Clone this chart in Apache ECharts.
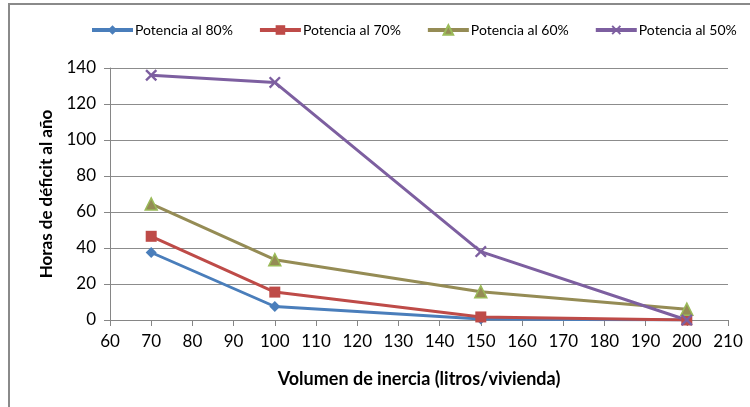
<!DOCTYPE html>
<html><head><meta charset="utf-8">
<script src="https://cdn.jsdelivr.net/npm/echarts@6/dist/echarts.min.js"></script>
<style>html,body{margin:0;padding:0;background:#fff}#c{width:750px;height:407px}</style>
</head><body><div id="c"></div>
<script>
const xValues = [70, 100, 150, 200];
const seriesNames = ['Potencia al 80%', 'Potencia al 70%', 'Potencia al 60%', 'Potencia al 50%'];
const p80 = [37.5, 7.5, 0.5, 0];
const p70 = [46.5, 15.5, 1.7, 0];
const p60 = [64.5, 33.5, 15.7, 6];
const p50 = [136, 132, 38, 0];
const xTitle = 'Volumen de inercia (litros/vivienda)';
const yTitle = 'Horas de déficit al año';

const FONT = 'Lato';
const xMark = 'path://M0,1.4L1.4,0L5,3.6L8.6,0L10,1.4L6.4,5L10,8.6L8.6,10L5,6.4L1.4,10L0,8.6L3.6,5Z';
function pts(arr){ return xValues.map((x,i)=>[x, arr[i]]); }
const chart = echarts.init(document.getElementById('c'), null, {renderer:'canvas'});
const styles = [
  {line:'#4A7EBB', fill:'#4A7EBB', border:'#4A7EBB', symbol:'diamond', size:11},
  {line:'#BE4B48', fill:'#BE4B48', border:'#BE4B48', symbol:'rect', size:11},
  {line:'#958C55', fill:'#958C55', border:'#9BBB59', symbol:'triangle', size:12},
  {line:'#7D5FA0', fill:'#7D5FA0', border:'#7D5FA0', symbol:xMark, size:12}
];
const datas = [p80, p70, p60, p50];
chart.setOption({
  animation:false,
  textStyle:{fontFamily:FONT},
  graphic:[{type:'rect', shape:{x:9,y:4,width:800,height:500}, style:{fill:'none', stroke:'#8a8a8a', lineWidth:2}, silent:true}],
  legend:{
    left:85, top:18, itemWidth:41, itemHeight:12, itemGap:25,
    lineStyle:{width:4},
    textStyle:{fontFamily:FONT, fontSize:14, color:'#000', padding:[0,0,0,-3]},
    data:seriesNames
  },
  grid:{left:110, right:22, top:68, bottom:87, containLabel:false},
  xAxis:{
    type:'value', min:60, max:210, interval:10,
    name:xTitle, nameLocation:'middle', nameGap:50,
    nameTextStyle:{fontFamily:FONT, fontSize:18, fontWeight:'bold', color:'#000'},
    axisLine:{show:true, onZero:false, lineStyle:{color:'#868686', width:1}},
    axisTick:{show:true, length:6, lineStyle:{color:'#868686'}},
    axisLabel:{fontFamily:FONT, fontSize:17, color:'#000', margin:13},
    splitLine:{show:false}
  },
  yAxis:{
    type:'value', min:0, max:140, interval:20,
    name:yTitle, nameLocation:'middle', nameGap:55, nameRotate:90,
    nameTextStyle:{fontFamily:FONT, fontSize:17, fontWeight:'bold', color:'#000'},
    axisLine:{show:true, lineStyle:{color:'#868686', width:1}},
    axisTick:{show:true, length:6, lineStyle:{color:'#868686'}},
    axisLabel:{fontFamily:FONT, fontSize:17, color:'#000', margin:14},
    splitLine:{show:true, lineStyle:{color:'#8c8c8c', width:1}}
  },
  series: seriesNames.map((n,i)=>({
    name:n, type:'line', data:pts(datas[i]),
    symbol:styles[i].symbol, symbolSize:styles[i].size, showSymbol:true,
    lineStyle:{color:styles[i].line, width:3},
    itemStyle:{color:styles[i].fill, borderColor:styles[i].border, borderWidth: i===2?1.5:0, opacity:1},
    emphasis:{disabled:true}
  }))
});
</script></body></html>
